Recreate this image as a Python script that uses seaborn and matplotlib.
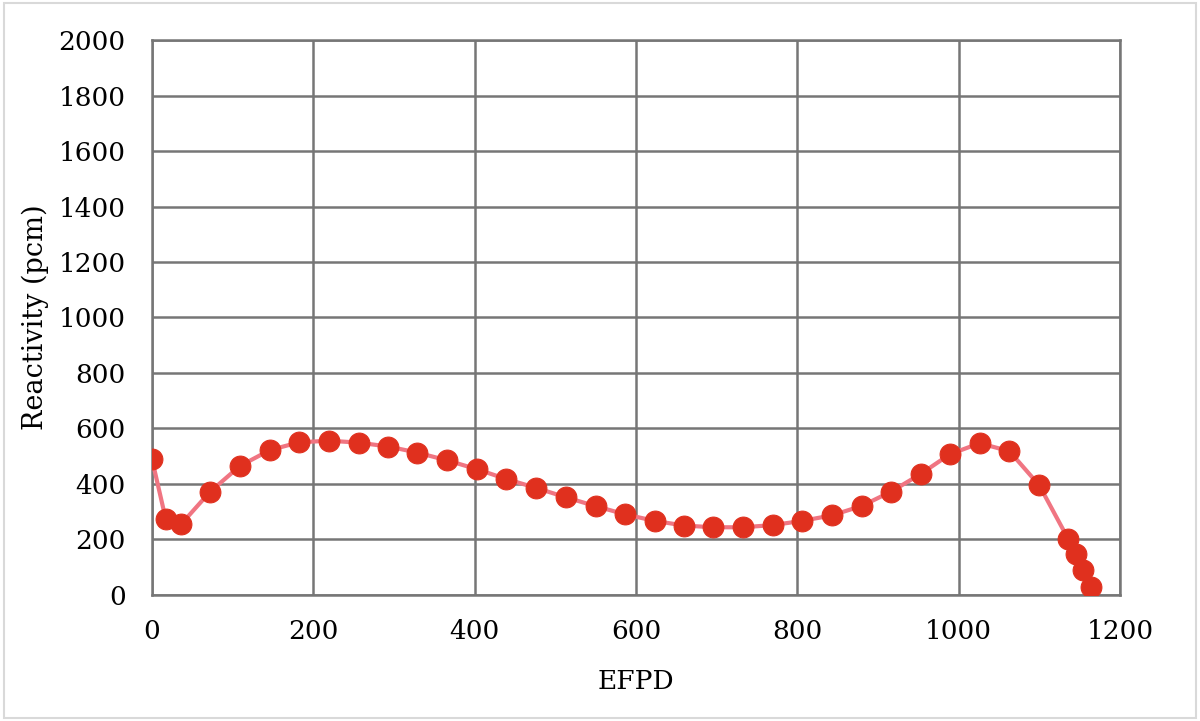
import numpy as np
import pandas as pd
import seaborn as sns
import matplotlib.pyplot as plt
from matplotlib.patches import Rectangle

efpd = [0, 17, 36, 72, 109, 146, 182, 219, 256, 293, 329, 366, 403, 439,
        476, 513, 550, 586, 623, 660, 696, 733, 770, 806, 843, 880, 916,
        953, 989, 1026, 1063, 1100, 1136, 1145, 1154, 1164]
reactivity = [489, 273, 255, 372, 465, 522, 550, 556, 549, 535, 513, 485, 453, 418,
              386, 352, 320, 291, 267, 250, 244, 244, 252, 267, 287, 321, 372,
              436, 507, 547, 518, 395, 201, 148, 90, 30]

df = pd.DataFrame({'EFPD': efpd, 'Reactivity': reactivity})

sns.set_style('white')
plt.rcParams['font.family'] = ['DejaVu Serif']
plt.rcParams['text.color'] = 'black'
plt.rcParams['axes.labelcolor'] = 'black'

fig = plt.figure(figsize=(12, 7.21), dpi=100)
ax = fig.add_axes([0.1267, 0.1748, 0.8066, 0.7697])

sns.lineplot(data=df, x='EFPD', y='Reactivity', ax=ax, color='#f07582', linewidth=3,
             marker='o', markersize=15, markerfacecolor='#e0301e',
             markeredgecolor='#e0301e', zorder=3)

ax.set_xlim(0, 1200)
ax.set_ylim(0, 2000)
ax.set_xticks(range(0, 1201, 200))
ax.set_yticks(range(0, 2001, 200))
ax.grid(True, color='#767676', linewidth=1.8)
ax.set_axisbelow(True)
for s in ax.spines.values():
    s.set_color('#767676')
    s.set_linewidth(1.8)
ax.tick_params(length=0, labelsize=19, colors='black')
ax.tick_params(axis='y', pad=19)
ax.tick_params(axis='x', pad=17)
ax.set_xlabel('EFPD', fontsize=19, labelpad=18)
ax.set_ylabel('Reactivity (pcm)', fontsize=19.5, labelpad=7)

fig.patches.append(Rectangle((0.003, 0.004), 0.994, 0.992, transform=fig.transFigure,
                             fill=False, edgecolor='#d9d9d9', linewidth=1.5))

fig.savefig('out.png', dpi=100)
